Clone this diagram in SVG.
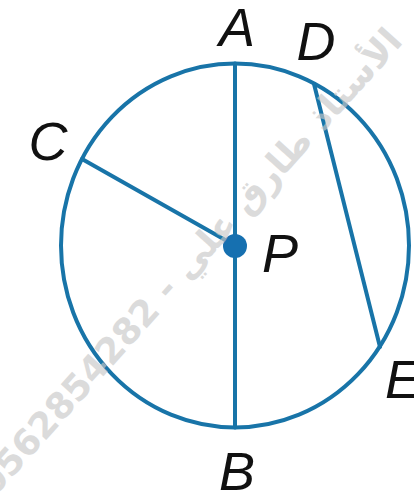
<svg xmlns="http://www.w3.org/2000/svg" width="414" height="500" viewBox="0 0 414 500">
<style>
.ln{fill:none;stroke:#1874a8;stroke-width:4;stroke-linecap:round}
.lbl{font-family:"Liberation Sans",Arial,sans-serif;font-style:italic;font-size:54px;fill:#111}
.wm{font-family:"DejaVu Sans",sans-serif;font-weight:bold;font-size:36px;fill:#c8c8c8;opacity:0.65}
</style>
<rect width="414" height="500" fill="#fff"/>
<g id="circle"><ellipse class="ln" cx="235" cy="245.5" rx="174" ry="182"/></g>
<g id="connectors">
<line class="ln" x1="235" y1="63.5" x2="235" y2="427.5"/>
<line class="ln" x1="82" y1="159" x2="235" y2="245.5"/>
<line class="ln" x1="314" y1="84" x2="380" y2="347"/>
</g>
<g id="P"><circle cx="235" cy="246" r="12" fill="#1670b0"/><text class="lbl" x="280" y="272" text-anchor="middle">P</text></g>
<g id="A"><text class="lbl" x="237" y="46" text-anchor="middle">A</text></g>
<g id="B"><text class="lbl" x="237" y="490" text-anchor="middle">B</text></g>
<g id="C"><text class="lbl" x="48" y="160" text-anchor="middle">C</text></g>
<g id="D"><text class="lbl" x="316" y="60" text-anchor="middle">D</text></g>
<g id="E"><text class="lbl" x="385" y="398">E</text></g>
<g id="watermark"><text class="wm" x="190" y="274" text-anchor="middle" transform="rotate(-48 190 262)">0562854282 - الأستاذ طارق علي</text></g>
</svg>
